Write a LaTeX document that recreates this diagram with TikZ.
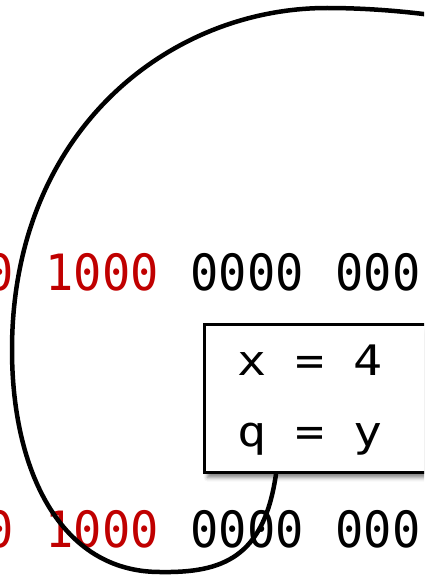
\documentclass[tikz,border=0pt]{standalone}
\usepackage{fontspec}
\usetikzlibrary{shadows.blur}
\newfontfamily\bitsfont[FakeStretch=0.94]{DejaVu Sans Mono}
\newfontfamily\boxfont[FakeStretch=1.15]{DejaVu Sans Mono}
\newcommand\bitsset{\bitsfont\fontsize{50}{60}\selectfont\spaceskip 31.7pt\relax}
\newcommand\boxset{\boxfont\fontsize{42}{70.5}\selectfont}
\newcommand\wideSpaces{\spaceskip 29.1pt\relax}
\definecolor{bitred}{RGB}{192,0,0}
\tikzset{
  bits/.style={anchor=base west, inner sep=0pt, font=\bitsset},
  codebox/.style={draw, fill=white, line width=3pt, anchor=north west,
    inner xsep=32.5pt, inner ysep=0pt, text width=200pt, align=left,
    text height=51pt, text depth=97pt, font=\boxset,
    blur shadow={shadow xshift=3pt, shadow yshift=-5pt, shadow blur radius=4pt, shadow opacity=50}},
  conn/.style={line width=4.5pt, line cap=round, line join=round}
}
\begin{document}
\begin{tikzpicture}[x=1pt,y=-1pt]
\useasboundingbox (0,0) rectangle (424,578);
\clip (0,0) rectangle (424,578);
\node[bits] (row1) at (-14.5,290) {\textcolor{bitred}{0 1000} 0000 000};
\node[bits] (row2) at (-14.5,547) {\textcolor{bitred}{0 1000} 0000 000};
\node[codebox] (box) at (203,323) {\wideSpaces x = 4\\\wideSpaces q = y};
\path (box.south west) ++(73,0) coordinate (s);
\coordinate (e) at (470,21);
\draw[conn] (s) .. controls (264,558) and (222,573) .. (160,572)
  .. controls (60,572) and (12,470) .. (12,350)
  .. controls (12,130) and (170,8) .. (327,8)
  .. controls (370,8) and (420,12) .. (e);
\end{tikzpicture}
\end{document}
